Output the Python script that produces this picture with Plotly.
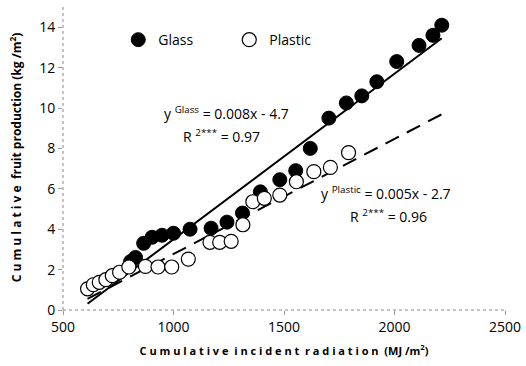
import plotly.graph_objects as go
import numpy as np

# Data
glass_x = [806, 828, 865, 903, 948, 1000, 1075, 1170, 1242, 1312, 1393, 1481, 1553, 1619, 1703, 1782, 1852, 1920, 2010, 2111, 2174, 2214]
glass_y = [2.4, 2.6, 3.3, 3.6, 3.7, 3.8, 4.0, 4.05, 4.35, 4.8, 5.85, 6.45, 6.9, 8.0, 9.5, 10.25, 10.6, 11.3, 12.3, 13.1, 13.6, 14.1]
plastic_x = [611, 637, 664, 694, 723, 756, 798, 873, 930, 992, 1067, 1165, 1209, 1261, 1314, 1359, 1411, 1481, 1556, 1635, 1710, 1792]
plastic_y = [1.05, 1.25, 1.37, 1.5, 1.7, 1.87, 2.13, 2.16, 2.13, 2.13, 2.52, 3.35, 3.35, 3.4, 4.22, 5.36, 5.53, 5.69, 6.35, 6.85, 7.06, 7.79]

# Trend lines (slope, intercept) and their x span, as drawn
glass_fit = [0.0082, -4.70]
plastic_fit = [0.0057, -2.93]
trend_x = [611, 2214]

x_ticks = [500, 1000, 1500, 2000, 2500]
y_ticks = [0, 2, 4, 6, 8, 10, 12, 14]

FONT = "Open Sans"

fig = go.Figure()

tx = np.array(trend_x, dtype=float)
fig.add_trace(go.Scatter(x=tx, y=glass_fit[0] * tx + glass_fit[1], mode="lines",
                         line=dict(color="black", width=2), showlegend=False, hoverinfo="skip"))
fig.add_trace(go.Scatter(x=tx, y=plastic_fit[0] * tx + plastic_fit[1], mode="lines",
                         line=dict(color="black", width=2, dash="15px,9px"), showlegend=False, hoverinfo="skip"))

fig.add_trace(go.Scatter(x=glass_x, y=glass_y, mode="markers", name="Glass",
                         marker=dict(symbol="circle", size=14, color="black", line=dict(color="black", width=1))))
fig.add_trace(go.Scatter(x=plastic_x, y=plastic_y, mode="markers", name="Plastic",
                         marker=dict(symbol="circle", size=14, color="white", line=dict(color="black", width=1.2))))

fig.update_layout(
    width=526, height=366,
    margin=dict(l=63, r=17, t=5, b=56),
    paper_bgcolor="white", plot_bgcolor="white",
    font=dict(family=FONT, color="black", size=14),
    legend=dict(orientation="h", x=0.125, y=0.885, xanchor="left", yanchor="middle",
                bgcolor="rgba(0,0,0,0)", font=dict(size=14, family=FONT),
                entrywidth=66, itemwidth=30, tracegroupgap=0),
    xaxis=dict(range=[500, 2500], tickvals=x_ticks, showgrid=False, zeroline=False,
               showline=False, ticks="outside", ticklen=4, tickcolor="#999",
               tickfont=dict(size=14, family=FONT),
               title=dict(text="<b>C u m u l a t i v e  i n c i d e n t  r a d i a t i o n  (MJ /m<sup>2</sup>)</b>",
                          font=dict(size=11, family=FONT), standoff=12)),
    yaxis=dict(range=[0, 15.1], tickvals=y_ticks, showgrid=False, zeroline=False,
               showline=False, ticks="outside", ticklen=4, tickcolor="#999",
               tickfont=dict(size=14, family=FONT),
               title=dict(text="<b>C u m u l a t i v e  fruit production (kg /m<sup>2</sup>)</b>",
                          font=dict(size=12, family=FONT), standoff=14)),
)

# dotted axis lines
fig.add_shape(type="line", xref="x domain", yref="y domain", x0=0, x1=0, y0=0, y1=1,
              line=dict(color="#888", width=1, dash="dot"))
fig.add_shape(type="line", xref="x domain", yref="y domain", x0=0, x1=1, y0=0, y1=0,
              line=dict(color="#888", width=1, dash="dot"))

eq_font = dict(size=14, family=FONT)
fig.add_annotation(x=1242, y=9.75, xref="x", yref="y", showarrow=False, borderpad=0,
                   text="y <sup>Glass</sup> = 0.008x - 4.7", font=eq_font)
fig.add_annotation(x=1215, y=8.6, xref="x", yref="y", showarrow=False, borderpad=0,
                   text="R <sup>2***</sup> = 0.97", font=eq_font)
fig.add_annotation(x=1962, y=5.8, xref="x", yref="y", showarrow=False, borderpad=0,
                   text="y <sup>Plastic</sup> = 0.005x - 2.7", font=eq_font)
fig.add_annotation(x=1973, y=4.65, xref="x", yref="y", showarrow=False, borderpad=0,
                   text="R <sup>2***</sup> = 0.96", font=eq_font)

fig.write_html("out.html")
